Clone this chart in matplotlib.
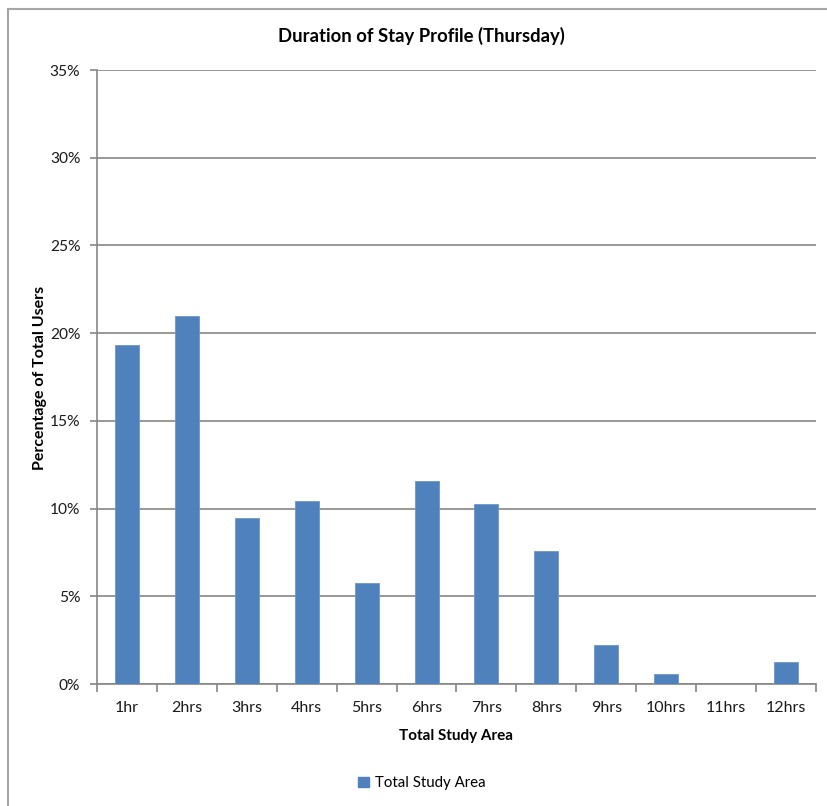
import matplotlib
matplotlib.use("Agg")
import matplotlib.pyplot as plt
from matplotlib.lines import Line2D
from matplotlib.patches import Patch
from matplotlib.ticker import FuncFormatter, FixedLocator

categories = ["1hr", "2hrs", "3hrs", "4hrs", "5hrs", "6hrs",
              "7hrs", "8hrs", "9hrs", "10hrs", "11hrs", "12hrs"]
share_pct = [19.33, 21.0, 9.47, 10.46, 5.73, 11.6,
             10.24, 7.57, 2.25, 0.55, 0.0, 1.24]
y_ticks = [0, 5, 10, 15, 20, 25, 30, 35]

plt.rcParams["font.family"] = ["Lato", "DejaVu Sans"]

BAR = "#4F81BD"
GRID = "#868686"
TEXT = "#1a1a1a"

fig = plt.figure(figsize=(8.28, 8.06), dpi=100)
fig.patch.set_facecolor("white")

# chart frame (top and left edges)
fig.add_artist(Line2D([8 / 828, 8 / 828], [0, 1 - 9 / 806], color="#a6a6a6", lw=1.5,
                      transform=fig.transFigure))
fig.add_artist(Line2D([8 / 828, 1], [1 - 9 / 806, 1 - 9 / 806], color="#a6a6a6", lw=1.5,
                      transform=fig.transFigure))

ax = fig.add_axes([97 / 828, 1 - 684 / 806, (816 - 97) / 828, (684 - 70) / 806])
x = list(range(len(categories)))
ax.bar(x, share_pct, width=0.4, color=BAR, edgecolor="#6f96c8", linewidth=0.6, zorder=3,
       label="Total Study Area")

ax.set_xlim(-0.5, len(categories) - 0.5)
ax.set_ylim(0, 35)
ax.set_yticks(y_ticks)
ax.yaxis.set_major_formatter(FuncFormatter(lambda v, p: f"{int(v)}%"))
ax.grid(axis="y", color=GRID, lw=1.2, zorder=0)

ax.set_xticks(x)
ax.set_xticklabels(categories)
ax.xaxis.set_minor_locator(FixedLocator([i - 0.5 for i in range(len(categories) + 1)]))
ax.tick_params(axis="x", which="major", length=0, pad=12, labelsize=11.5, labelcolor=TEXT)
ax.tick_params(axis="x", which="minor", length=6, width=1.2, color=GRID, direction="out")
ax.tick_params(axis="y", length=5, width=1.2, color=GRID, pad=7, labelsize=11.2,
               labelcolor=TEXT)

for side in ["top", "right"]:
    ax.spines[side].set_visible(False)
for side in ["left", "bottom"]:
    ax.spines[side].set_color(GRID)
    ax.spines[side].set_linewidth(1.2)

fig.text(421 / 828, 1 - 36 / 806, "Duration of Stay Profile (Thursday)", ha="center",
         va="center", fontsize=13.3, fontweight="bold", color="black")
fig.text(456 / 828, 1 - 736 / 806, "Total Study Area", ha="center", va="center",
         fontsize=11, fontweight="bold", color="black")
fig.text(40 / 828, 1 - 378 / 806, "Percentage of Total Users", ha="center", va="center",
         rotation=90, fontsize=11.5, fontweight="bold", color="black")

fig.legend(handles=[Patch(facecolor=BAR, edgecolor=BAR, label="Total Study Area")],
           loc="center", bbox_to_anchor=(422 / 828, 1 - 783 / 806), frameon=False,
           fontsize=10.8, handlelength=0.7, handleheight=0.7, handletextpad=0.4)

fig.savefig("out.png", dpi=100, facecolor="white")
